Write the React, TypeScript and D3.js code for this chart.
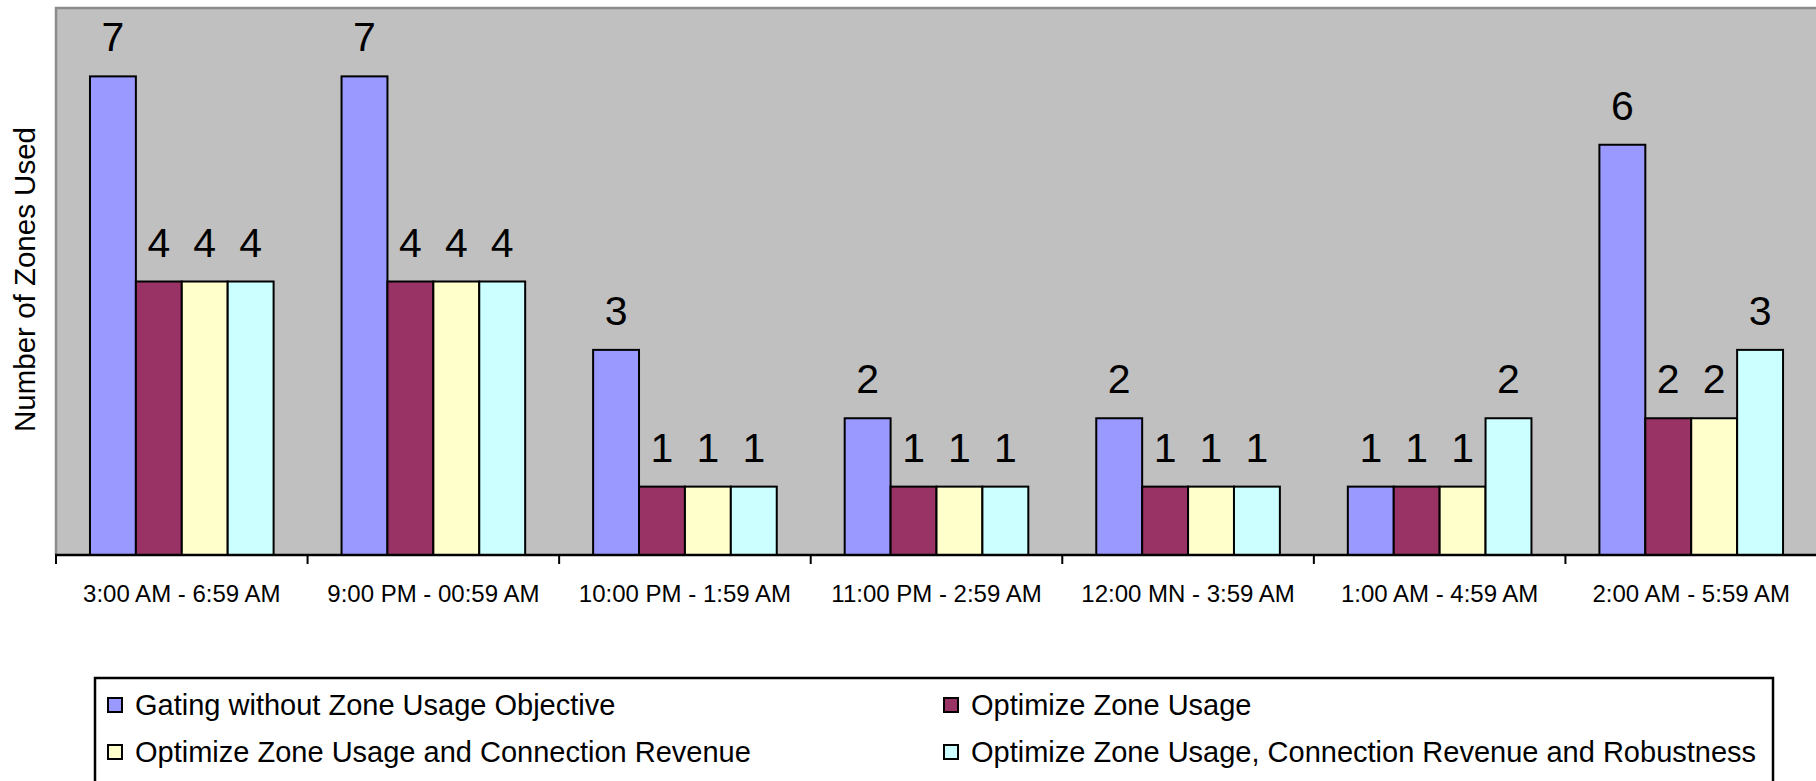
import React from "react";
import * as d3 from "d3";

const categories = [
  "3:00 AM - 6:59 AM",
  "9:00 PM - 00:59 AM",
  "10:00 PM - 1:59 AM",
  "11:00 PM - 2:59 AM",
  "12:00 MN - 3:59 AM",
  "1:00 AM - 4:59 AM",
  "2:00 AM - 5:59 AM",
];

const seriesNames = [
  "Gating without Zone Usage Objective",
  "Optimize Zone Usage",
  "Optimize Zone Usage and Connection Revenue",
  "Optimize Zone Usage, Connection Revenue and Robustness",
];

const gatingValues = [7, 7, 3, 2, 2, 1, 6];
const zoneUsageValues = [4, 4, 1, 1, 1, 1, 2];
const zoneRevenueValues = [4, 4, 1, 1, 1, 1, 2];
const zoneRevenueRobustValues = [4, 4, 1, 1, 1, 2, 3];

const seriesColors = ["#9999ff", "#993366", "#ffffcc", "#ccffff"];

const seriesValues = [gatingValues, zoneUsageValues, zoneRevenueValues, zoneRevenueRobustValues];

const W = 1816;
const H = 781;
const plot = { left: 56, top: 8, right: 1817, bottom: 555 };
const FONT = "Arial, 'Liberation Sans', sans-serif";

export default function App() {
  const x0 = d3
    .scaleBand<string>()
    .domain(categories)
    .range([plot.left, plot.right])
    .paddingInner(0)
    .paddingOuter(0);

  const x1 = d3
    .scaleBand<string>()
    .domain(seriesNames)
    .range([0, x0.bandwidth()])
    .paddingInner(0)
    .paddingOuter(0.74);

  const y = d3.scaleLinear().domain([0, 8]).range([plot.bottom, plot.top]);

  const tickXs = [...categories.map((c) => x0(c)!), plot.right];

  const legendRows = [
    { x: 108, y: 705 },
    { x: 944, y: 705 },
    { x: 108, y: 752 },
    { x: 944, y: 752 },
  ];

  return (
    <svg
      width={W}
      height={H}
      style={{ position: "absolute", left: 0, top: 0, background: "#ffffff" }}
      fontFamily={FONT}
    >
      {/* plot area */}
      <rect
        x={plot.left}
        y={plot.top}
        width={plot.right - plot.left}
        height={plot.bottom - plot.top}
        fill="#c0c0c0"
      />
      <path
        d={`M${plot.left},${plot.bottom} V${plot.top} H${plot.right}`}
        fill="none"
        stroke="#8c8c8c"
        strokeWidth={2.5}
      />

      {/* bars */}
      {seriesNames.map((s, si) =>
        categories.map((c, ci) => {
          const v = seriesValues[si][ci];
          const bx = x0(c)! + x1(s)!;
          return (
            <rect
              key={`${si}-${ci}`}
              x={bx}
              y={y(v)}
              width={x1.bandwidth()}
              height={y(0) - y(v)}
              fill={seriesColors[si]}
              stroke="#000"
              strokeWidth={2}
            />
          );
        })
      )}

      {/* value labels */}
      {seriesNames.map((s, si) =>
        categories.map((c, ci) => {
          const v = seriesValues[si][ci];
          const cx = x0(c)! + x1(s)! + x1.bandwidth() / 2;
          return (
            <text
              key={`l-${si}-${ci}`}
              x={cx}
              y={y(v) - 25}
              textAnchor="middle"
              fontSize={41}
              fill="#000"
            >
              {v}
            </text>
          );
        })
      )}

      {/* category axis */}
      <line x1={plot.left - 1} x2={plot.right} y1={plot.bottom} y2={plot.bottom} stroke="#000" strokeWidth={2.5} />
      {tickXs.map((tx, i) => (
        <line key={`t-${i}`} x1={tx} x2={tx} y1={plot.bottom} y2={plot.bottom + 9} stroke="#000" strokeWidth={2} />
      ))}
      {categories.map((c) => (
        <text
          key={`c-${c}`}
          x={x0(c)! + x0.bandwidth() / 2}
          y={602}
          textAnchor="middle"
          fontSize={24}
          fill="#000"
        >
          {c}
        </text>
      ))}

      {/* value axis title */}
      <text
        transform={`translate(35,${(plot.top + plot.bottom) / 2 - 2}) rotate(-90)`}
        textAnchor="middle"
        fontSize={29.5}
        fill="#000"
      >
        Number of Zones Used
      </text>

      {/* legend */}
      <rect x={95} y={678} width={1773 - 95} height={H - 678 + 10} fill="#fff" stroke="#000" strokeWidth={2.5} />
      {seriesNames.map((s, i) => (
        <g key={`lg-${i}`}>
          <rect
            x={legendRows[i].x}
            y={legendRows[i].y - 7}
            width={14}
            height={14}
            fill={seriesColors[i]}
            stroke="#000"
            strokeWidth={2}
          />
          <text x={legendRows[i].x + 27} y={legendRows[i].y + 10} fontSize={29} fill="#000">
            {s}
          </text>
        </g>
      ))}
    </svg>
  );
}
